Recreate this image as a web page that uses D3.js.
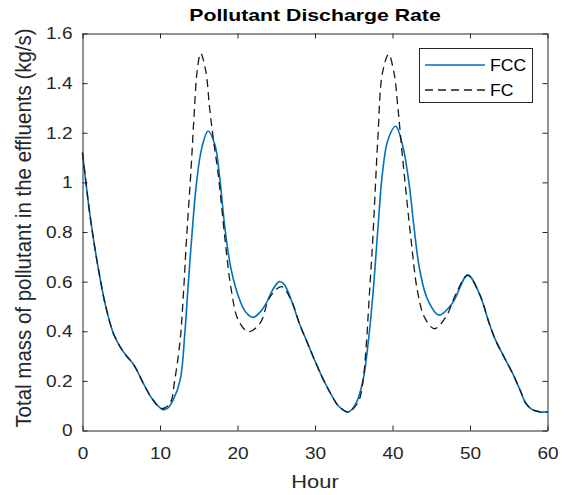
<!DOCTYPE html>
<html>
<head>
<meta charset="utf-8">
<script src="https://cdn.jsdelivr.net/npm/d3@7"></script>
<style>
  html, body { margin: 0; padding: 0; background: #ffffff; }
  svg { display: block; font-family: "Liberation Sans", Arial, Helvetica, sans-serif; }
</style>
</head>
<body>
<svg id="chart" width="575" height="495"></svg>
<script>
// ---- data ----
const fccHours = [0, 1, 2, 3, 4, 5, 5.7, 6.5, 7, 7.85, 9.1, 10.4, 11, 11.7, 12.6, 13.2, 13.6, 14.1, 14.7, 15.4, 16.2, 17.1, 17.7, 18.4, 19.2, 20.3, 21, 22, 23, 23.7, 24.5, 25.4, 26, 27, 28, 29, 30, 31, 32, 33, 34.3, 35.3, 36.2, 36.8, 37.45, 38.1, 38.7, 39.4, 40.4, 41.3, 42.2, 42.7, 43.5, 44.5, 46, 47.7, 49.7, 51.2, 52.5, 53.3, 54.5, 55.5, 56.5, 57.2, 58, 59, 60];
const fccValues = [1.12, 0.86, 0.66, 0.50, 0.39, 0.33, 0.30, 0.27, 0.244, 0.19, 0.123, 0.084, 0.09, 0.123, 0.203, 0.39, 0.57, 0.78, 0.995, 1.14, 1.207, 1.15, 1.02, 0.81, 0.646, 0.525, 0.48, 0.456, 0.48, 0.512, 0.565, 0.60, 0.59, 0.52, 0.43, 0.355, 0.28, 0.21, 0.15, 0.10, 0.074, 0.11, 0.203, 0.337, 0.539, 0.807, 1.036, 1.17, 1.226, 1.15, 0.98, 0.84, 0.65, 0.53, 0.465, 0.512, 0.626, 0.552, 0.43, 0.364, 0.29, 0.23, 0.16, 0.11, 0.085, 0.075, 0.075];

const fcHours = [0, 1, 2, 3, 4, 5, 5.7, 6.5, 7, 7.85, 9.1, 10.2, 11.3, 11.9, 12.6, 13.0, 13.4, 14.0, 14.4, 14.8, 15.25, 15.9, 16.4, 16.9, 17.5, 18.4, 19.2, 20.1, 21.4, 22.9, 24.2, 25.7, 27, 28, 29, 30, 31, 32, 33, 34.3, 35.0, 35.7, 36.2, 36.6, 37.0, 37.45, 38.1, 38.7, 39.5, 40.2, 40.7, 41.3, 42.4, 43.2, 44.1, 45.4, 46.9, 48.2, 49.7, 51.2, 52.5, 53.3, 54.5, 55.5, 56.5, 57.2, 58, 59, 60];
const fcValues = [1.12, 0.86, 0.66, 0.50, 0.39, 0.33, 0.30, 0.27, 0.244, 0.19, 0.123, 0.088, 0.11, 0.203, 0.364, 0.539, 0.76, 1.05, 1.27, 1.45, 1.52, 1.45, 1.30, 1.17, 1.036, 0.767, 0.566, 0.445, 0.398, 0.432, 0.539, 0.58, 0.52, 0.43, 0.355, 0.28, 0.21, 0.15, 0.10, 0.074, 0.09, 0.123, 0.2, 0.337, 0.539, 0.767, 1.17, 1.44, 1.516, 1.44, 1.30, 1.10, 0.767, 0.566, 0.458, 0.41, 0.458, 0.552, 0.626, 0.552, 0.43, 0.364, 0.29, 0.23, 0.16, 0.11, 0.085, 0.075, 0.075];

const xTicks = [0, 10, 20, 30, 40, 50, 60];
const yTicks = [0, 0.2, 0.4, 0.6, 0.8, 1, 1.2, 1.4, 1.6];
const seriesNames = ["FCC", "FC"];

// ---- layout ----
const svg = d3.select("#chart");
const m = { left: 82.5, right: 547.5, top: 33.5, bottom: 430.5 };
const x = d3.scaleLinear().domain([0, 60]).range([m.left, m.right]);
const y = d3.scaleLinear().domain([0, 1.6]).range([m.bottom, m.top]);
const axisColor = "#262626";
const tickLen = 5;
const fccColor = "#0072BD";
const fcColor = "#1a1a1a";
const dash = "8,5";

// lines
const line = d3.line().x(d => x(d[0])).y(d => y(d[1])).curve(d3.curveCatmullRom.alpha(0.5));
const fccData = fccHours.map((h, i) => [h, fccValues[i]]);
const fcData = fcHours.map((h, i) => [h, fcValues[i]]);

const plot = svg.append("g");
plot.append("path").datum(fccData)
  .attr("d", line).attr("fill", "none")
  .attr("stroke", fccColor).attr("stroke-width", 1.6);
plot.append("path").datum(fcData)
  .attr("d", line).attr("fill", "none")
  .attr("stroke", fcColor).attr("stroke-width", 1.3)
  .attr("stroke-dasharray", dash);

// axes
function styleAxis(g) {
  g.selectAll("path.domain").attr("stroke", axisColor);
  g.selectAll(".tick line").attr("stroke", axisColor);
  g.selectAll(".tick text").attr("fill", axisColor)
    .style("font-size", "17px").style("font-family", "'Liberation Sans', Arial, sans-serif");
}
const xAxis = svg.append("g").attr("transform", `translate(0,${m.bottom})`)
  .call(d3.axisBottom(x).tickValues(xTicks).tickFormat(d3.format("d"))
    .tickSizeInner(-tickLen).tickSizeOuter(0).tickPadding(16));
styleAxis(xAxis);
xAxis.selectAll(".tick text").attr("transform", "scale(1.12,1)");
const xAxisTop = svg.append("g").attr("transform", `translate(0,${m.top})`)
  .call(d3.axisTop(x).tickValues(xTicks).tickFormat("")
    .tickSizeInner(-tickLen).tickSizeOuter(0));
styleAxis(xAxisTop);
const yAxis = svg.append("g").attr("transform", `translate(${m.left},0)`)
  .call(d3.axisLeft(y).tickValues(yTicks).tickFormat(d => d3.format("")(+d.toFixed(1)))
    .tickSizeInner(-tickLen).tickSizeOuter(0).tickPadding(0));
styleAxis(yAxis);
yAxis.selectAll(".tick text").attr("x", null)
  .attr("transform", "translate(-10,0) scale(1.12,1)");
const yAxisRight = svg.append("g").attr("transform", `translate(${m.right},0)`)
  .call(d3.axisRight(y).tickValues(yTicks).tickFormat("")
    .tickSizeInner(-tickLen).tickSizeOuter(0));
styleAxis(yAxisRight);

// titles
svg.append("text")
  .attr("transform", `translate(${(m.left + m.right) / 2},21) scale(1.25,1)`)
  .attr("text-anchor", "middle").style("font-size", "17px").style("font-weight", "bold")
  .attr("fill", "#000").text("Pollutant Discharge Rate");
svg.append("text")
  .attr("transform", `translate(${(m.left + m.right) / 2},488) scale(1.15,1)`)
  .attr("text-anchor", "middle").style("font-size", "19px")
  .attr("fill", axisColor).text("Hour");
svg.append("text")
  .attr("transform", `translate(31,${(m.top + m.bottom) / 2 - 4}) scale(1.1,1) rotate(-90)`)
  .attr("text-anchor", "middle").style("font-size", "20.5px")
  .attr("fill", axisColor).text("Total mass of pollutant in the effluents (kg/s)");

// legend
const lg = svg.append("g");
lg.append("rect").attr("x", 419.5).attr("y", 48.5).attr("width", 113).attr("height", 54)
  .attr("fill", "#fff").attr("stroke", axisColor).attr("stroke-width", 1);
const legendStyles = [
  { color: fccColor, dash: null, w: 1.6 },
  { color: fcColor, dash: dash, w: 1.3 }
];
seriesNames.forEach((name, i) => {
  const yy = 65 + i * 25;
  lg.append("line").attr("x1", 425).attr("x2", 485).attr("y1", yy).attr("y2", yy)
    .attr("stroke", legendStyles[i].color).attr("stroke-width", legendStyles[i].w)
    .attr("stroke-dasharray", legendStyles[i].dash);
  lg.append("text").attr("transform", `translate(490,${yy + 6}) scale(1.1,1)`)
    .style("font-size", "16px")
    .attr("fill", "#000").text(name);
});
</script>
</body>
</html>
